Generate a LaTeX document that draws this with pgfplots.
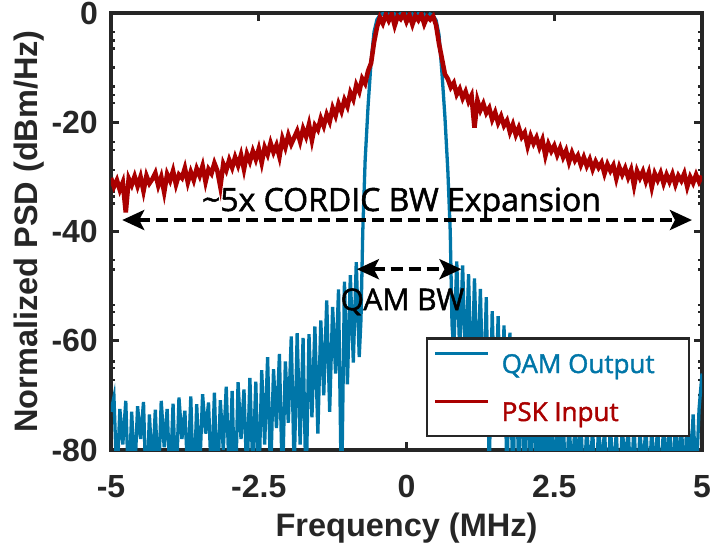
\documentclass[border=0pt]{standalone}
\usepackage{fontspec}
\setmainfont{Liberation Sans}
\newfontfamily\osansx[BoldFont={Open Sans}, BoldFeatures={FakeBold=1.6}]{Open Sans}
\newcommand{\osans}{\osansx\bfseries}
\usepackage{pgfplots}
\pgfplotsset{compat=1.18}
\usetikzlibrary{arrows.meta}
\definecolor{qam}{RGB}{0,118,168}
\definecolor{psk}{RGB}{170,0,0}
\definecolor{axc}{RGB}{38,38,38}
\begin{document}
\begin{tikzpicture}
\path[use as bounding box] (-111pt,-104pt) rectangle (600pt,450pt);
\begin{axis}[
  at={(0pt,0pt)}, anchor=south west,
  scale only axis, width=591pt, height=437pt,
  xmin=-5, xmax=5, ymin=-80, ymax=0,
  xtick={-5,-2.5,0,2.5,5}, xticklabels={-5,-2.5,0,2.5,5},
  ytick={-80,-60,-40,-20,0}, yticklabels={-80,-60,-40,-20,0},
  minor ytick={-3.5,-5,-6.5,-10,-13.5,-15,-16.5,-23.6,-25.1,-28.7,-32.7,-33.6,-34.9,-45.2,-47,-53.5,-54.7,-57.1,-63.8,-65,-67.2,-69.9},
  tick align=inside, major tick length=8pt, minor tick length=4.5pt,
  major tick style={axc, line width=3pt},
  minor tick style={axc, line width=2.5pt},
  axis line style={axc, line width=3.5pt},
  xticklabel style={font=\fontsize{32}{32}\selectfont\bfseries, text=axc, inner sep=0pt, anchor=north, yshift=-25pt},
  yticklabel style={font=\fontsize{32}{32}\selectfont\bfseries, text=axc, inner sep=0pt, anchor=east, xshift=-13pt},
  xlabel={Frequency (MHz)},
  xlabel style={font=\fontsize{32.5}{32.5}\selectfont\bfseries, text=axc, at={(axis description cs:0.5,-0.1968)}, anchor=base, inner sep=0pt},
  ylabel={Normalized PSD (dBm/Hz)},
  ylabel style={font=\fontsize{32.5}{32.5}\selectfont\bfseries, text=axc, at={(axis description cs:-0.16413,0.5)}, anchor=north, inner sep=0pt},
  legend style={at={(axis description cs:1,0)}, anchor=south east, xshift=-12pt, yshift=13pt,
    draw=axc, line width=2.5pt, fill=white, inner xsep=7pt, inner ysep=10.75pt,
    font=\fontsize{26}{26}\selectfont\osans, row sep=20pt,
    nodes={inner sep=0pt, text height=24pt, text depth=4pt},
    /tikz/every odd column/.append style={column sep=12pt}},
  legend image code/.code={\draw[#1, line width=3pt] (0pt,10pt) -- (53pt,10pt);},
  legend cell align=left,
]
\addplot[qam, line width=3.3pt] coordinates {
(-5.00,-73) (-4.95,-70.3) (-4.90,-86) (-4.85,-72.5) (-4.80,-79) (-4.75,-71) (-4.70,-88) (-4.65,-73) (-4.60,-85) (-4.55,-72)
(-4.50,-78) (-4.45,-71.2) (-4.40,-90) (-4.35,-73.5) (-4.30,-84) (-4.25,-72.6) (-4.20,-87) (-4.15,-71) (-4.10,-79.5) (-4.05,-72.5)
(-4.00,-86) (-3.95,-71.5) (-3.90,-88) (-3.85,-70.4) (-3.80,-78) (-3.75,-72.8) (-3.70,-85) (-3.65,-70.2) (-3.60,-89) (-3.55,-71.6)
(-3.50,-84) (-3.45,-69.8) (-3.40,-77) (-3.35,-71.3) (-3.30,-86) (-3.25,-69.5) (-3.20,-88) (-3.15,-70.9) (-3.10,-80) (-3.05,-68.4)
(-3.00,-85) (-2.95,-69.2) (-2.90,-90) (-2.85,-67.6) (-2.80,-78) (-2.75,-68.9) (-2.70,-86) (-2.65,-66.8) (-2.60,-84) (-2.55,-67.5)
(-2.50,-88) (-2.45,-65.4) (-2.40,-79) (-2.35,-63.0) (-2.30,-85) (-2.25,-65.2) (-2.20,-76) (-2.15,-62.4) (-2.10,-87) (-2.05,-63.8)
(-2.00,-75) (-1.95,-59.2) (-1.90,-84) (-1.85,-58.6) (-1.80,-79) (-1.75,-59.5) (-1.70,-88) (-1.65,-58.8) (-1.60,-74) (-1.55,-57.4)
(-1.50,-77) (-1.45,-56.3) (-1.40,-70) (-1.35,-52.6) (-1.30,-73) (-1.25,-53.8) (-1.20,-66) (-1.15,-50.6) (-1.10,-90) (-1.05,-49.2)
(-1.00,-68) (-0.95,-48.0) (-0.90,-64) (-0.85,-45.6) (-0.80,-63) (-0.77,-56) (-0.74,-40) (-0.70,-27) (-0.65,-17) (-0.60,-9)
(-0.55,-3.5) (-0.50,-1.2) (-0.45,-0.4) (-0.40,-0.1) (-0.35,-0.9) (-0.30,-0.3) (-0.25,-1.0) (-0.20,-0.2) (-0.15,-0.7) (-0.10,-0.1)
(-0.05,-0.8) (0.00,-0.3) (0.05,-0.9) (0.10,-0.2) (0.15,-0.6) (0.20,-0.1) (0.25,-0.8) (0.30,-0.3) (0.35,-1.0) (0.40,-0.2)
(0.45,-0.5) (0.50,-1.3) (0.55,-4) (0.60,-11) (0.65,-19) (0.70,-29) (0.74,-40) (0.77,-57) (0.80,-62) (0.85,-45.5)
(0.90,-62) (0.95,-46.2) (1.00,-66) (1.05,-47.8) (1.10,-70) (1.15,-48.6) (1.20,-68) (1.25,-50.5) (1.30,-73) (1.35,-52.0)
(1.40,-84) (1.45,-54.6) (1.50,-75) (1.55,-55.5) (1.60,-76) (1.65,-57.2) (1.70,-86) (1.75,-58.5) (1.80,-88) (1.85,-62)
(1.90,-85) (1.95,-64) (2.00,-89) (2.05,-66) (2.10,-84) (2.15,-68) (2.20,-87) (2.25,-69) (2.30,-90) (2.35,-70.5)
(2.40,-85) (2.45,-71.5) (2.50,-88) (2.55,-72.5) (2.60,-84) (2.65,-73.5) (2.70,-89) (2.75,-74) (2.80,-86) (2.85,-75)
(2.90,-83) (2.95,-74.5) (3.00,-88) (3.05,-75.5) (3.10,-85) (3.15,-76) (3.20,-90) (3.25,-75.2) (3.30,-84) (3.35,-76.4)
(3.40,-87) (3.45,-75.6) (3.50,-85) (3.55,-76.6) (3.60,-89) (3.65,-75.8) (3.70,-83) (3.75,-76.2) (3.80,-86) (3.85,-75.4)
(3.90,-88) (3.95,-76.5) (4.00,-84) (4.05,-75.5) (4.10,-87) (4.15,-76) (4.20,-85) (4.25,-75.2) (4.30,-89) (4.35,-74.6)
(4.40,-84) (4.45,-75.3) (4.50,-87) (4.55,-73.8) (4.60,-85) (4.65,-74.5) (4.70,-88) (4.75,-72) (4.80,-84) (4.85,-73.5)
(4.90,-86) (4.95,-72.5) (5.00,-66)
};
\addlegendentry{\textcolor{qam}{\makebox[180pt][l]{QAM Output}}}
\addplot[psk, line width=4.6pt] coordinates {
(-5.00,-30.2) (-4.95,-31.8) (-4.90,-30.6) (-4.85,-32.4) (-4.80,-31.0) (-4.75,-36.5) (-4.70,-30.3) (-4.65,-31.5) (-4.60,-29.9) (-4.55,-31.7)
(-4.50,-30.0) (-4.45,-32.6) (-4.40,-29.8) (-4.35,-31.2) (-4.30,-30.4) (-4.25,-29.3) (-4.20,-31.6) (-4.15,-30.0) (-4.10,-32.8) (-4.05,-29.5)
(-4.00,-30.7) (-3.95,-28.9) (-3.90,-31.4) (-3.85,-29.6) (-3.80,-30.2) (-3.75,-28.4) (-3.70,-31.0) (-3.65,-29.1) (-3.60,-30.6) (-3.55,-28.5)
(-3.50,-29.8) (-3.45,-28.0) (-3.40,-30.9) (-3.35,-28.6) (-3.30,-29.4) (-3.25,-27.5) (-3.20,-28.9) (-3.15,-31.8) (-3.10,-27.6) (-3.05,-28.8)
(-3.00,-26.9) (-2.95,-28.3) (-2.90,-26.4) (-2.85,-27.9) (-2.80,-26.0) (-2.75,-28.6) (-2.70,-25.8) (-2.65,-27.2) (-2.60,-25.3) (-2.55,-26.8)
(-2.50,-24.9) (-2.45,-27.4) (-2.40,-24.6) (-2.35,-25.9) (-2.30,-23.8) (-2.25,-25.5) (-2.20,-24.2) (-2.15,-26.3) (-2.10,-23.0) (-2.05,-24.6)
(-2.00,-22.4) (-1.95,-24.0) (-1.90,-22.8) (-1.85,-21.6) (-1.80,-23.5) (-1.75,-21.2) (-1.70,-22.6) (-1.65,-20.4) (-1.60,-23.3) (-1.55,-20.6)
(-1.50,-21.4) (-1.45,-19.3) (-1.40,-20.7) (-1.35,-18.6) (-1.30,-19.9) (-1.25,-17.4) (-1.20,-18.8) (-1.15,-16.6) (-1.10,-18.0) (-1.05,-15.9)
(-1.00,-17.1) (-0.95,-14.6) (-0.90,-15.8) (-0.85,-13.2) (-0.80,-14.4) (-0.75,-12.0) (-0.70,-12.9) (-0.65,-10.6) (-0.60,-9.2) (-0.55,-5.4)
(-0.50,-2.6) (-0.45,-0.8) (-0.40,-1.9) (-0.35,-0.3) (-0.30,-1.4) (-0.25,-0.2) (-0.20,-2.3) (-0.15,-0.6) (-0.10,-1.1) (-0.05,-0.1)
(0.00,-1.6) (0.05,-0.4) (0.10,-2.1) (0.15,-0.5) (0.20,-1.3) (0.25,-0.2) (0.30,-2.0) (0.35,-0.7) (0.40,-1.2) (0.45,-0.6)
(0.50,-2.2) (0.55,-5.6) (0.60,-8.4) (0.65,-11.2) (0.70,-12.1) (0.75,-13.6) (0.80,-12.8) (0.85,-14.9) (0.90,-13.9) (0.95,-15.6)
(1.00,-14.4) (1.05,-16.2) (1.10,-15.1) (1.15,-21.0) (1.20,-16.0) (1.25,-17.8) (1.30,-16.6) (1.35,-18.3) (1.40,-17.4) (1.45,-19.5)
(1.50,-18.2) (1.55,-20.1) (1.60,-18.9) (1.65,-20.6) (1.70,-19.7) (1.75,-21.8) (1.80,-20.4) (1.85,-22.3) (1.90,-21.0) (1.95,-22.7)
(2.00,-21.9) (2.05,-24.4) (2.10,-22.5) (2.15,-23.9) (2.20,-22.8) (2.25,-24.6) (2.30,-23.2) (2.35,-26.1) (2.40,-24.0) (2.45,-25.3)
(2.50,-24.3) (2.55,-26.0) (2.60,-24.7) (2.65,-26.4) (2.70,-25.2) (2.75,-27.3) (2.80,-25.6) (2.85,-27.0) (2.90,-26.1) (2.95,-27.8)
(3.00,-26.4) (3.05,-28.0) (3.10,-26.8) (3.15,-28.6) (3.20,-27.2) (3.25,-28.3) (3.30,-27.4) (3.35,-29.4) (3.40,-27.7) (3.45,-28.9)
(3.50,-27.9) (3.55,-30.3) (3.60,-28.2) (3.65,-29.6) (3.70,-28.4) (3.75,-30.1) (3.80,-28.7) (3.85,-31.6) (3.90,-28.9) (3.95,-30.2)
(4.00,-29.0) (4.05,-30.8) (4.10,-29.2) (4.15,-31.9) (4.20,-29.4) (4.25,-30.6) (4.30,-29.3) (4.35,-31.2) (4.40,-29.6) (4.45,-30.9)
(4.50,-29.5) (4.55,-31.4) (4.60,-29.8) (4.65,-30.7) (4.70,-29.4) (4.75,-31.8) (4.80,-30.0) (4.85,-31.1) (4.90,-29.6) (4.95,-30.9)
(5.00,-29.8)
};
\addlegendentry{\textcolor{psk}{\makebox[180pt][l]{PSK Input}}}
\draw[black, line width=4pt, dash pattern=on 12pt off 6pt,
  {Stealth[length=22pt,width=20pt,inset=5pt]}-{Stealth[length=22pt,width=20pt,inset=5pt]}]
  (axis cs:-4.81,-37.9) -- (axis cs:4.83,-37.9);
\draw[black, line width=4pt, dash pattern=on 12pt off 6pt,
  {Stealth[length=22pt,width=20pt,inset=5pt]}-{Stealth[length=22pt,width=20pt,inset=5pt]}]
  (axis cs:-0.84,-46.9) -- (axis cs:0.93,-46.9);
\node[font=\fontsize{32}{32}\selectfont\osans, anchor=base, inner sep=0pt] at (axis cs:-0.085,-36.25) {\textasciitilde 5x CORDIC BW Expansion};
\node[font=\fontsize{30}{30}\selectfont\osans, anchor=base, inner sep=0pt] at (axis cs:-0.07,-54.4) {QAM BW};
\end{axis}
\end{tikzpicture}
\end{document}
